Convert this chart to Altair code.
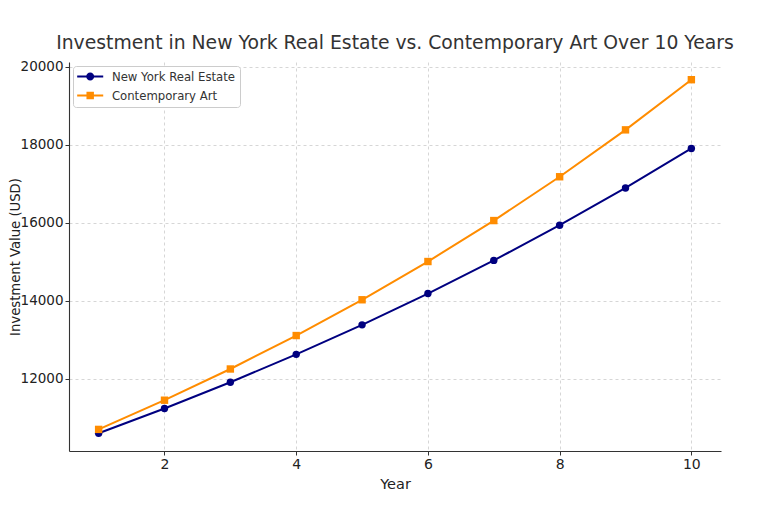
import altair as alt
import pandas as pd

years = [1, 2, 3, 4, 5, 6, 7, 8, 9, 10]
ny_real_estate = [10600, 11236, 11910, 12625, 13382, 14185, 15036, 15938, 16895, 17908]
contemporary_art = [10700, 11449, 12250, 13108, 14026, 15007, 16058, 17182, 18385, 19672]
series_names = ["New York Real Estate", "Contemporary Art"]
series_colors = ["#000080", "#ff8c00"]
series_shapes = ["circle", "square"]
x_ticks = [2, 4, 6, 8, 10]
y_ticks = [12000, 14000, 16000, 18000, 20000]

rows = []
for name, vals in zip(series_names, [ny_real_estate, contemporary_art]):
    for yr, v in zip(years, vals):
        rows.append({"Year": yr, "Value": v, "Series": name, "Legend": name})
df = pd.DataFrame(rows)

# legend glyphs: a line segment with the marker on it
circle_glyph = "M-2.17,-0.17H2.17V0.17H-2.17ZM-0.67,0A0.67,0.67,0,1,1,0.67,0A0.67,0.67,0,1,1,-0.67,0Z"
square_glyph = "M-2.17,-0.17H2.17V0.17H-2.17ZM-0.62,-0.62H0.62V0.62H-0.62Z"

x = alt.X("Year:Q", scale=alt.Scale(domain=[0.55, 10.45], nice=False, zero=False),
          axis=alt.Axis(values=x_ticks, title="Year", format="d", labelFontSize=14))
y = alt.Y("Value:Q", scale=alt.Scale(domain=[10146, 20126], nice=False, zero=False),
          axis=alt.Axis(values=y_ticks, title="Investment Value (USD)", format="d",
                        titleX=-49.5, titleY=194.5, titleBaseline="alphabetic",
                        titleFontSize=13.2, labelFontSize=13.5))

color_scale = alt.Scale(domain=series_names, range=series_colors)

lines = alt.Chart(df).mark_line(strokeWidth=2).encode(
    x=x, y=y,
    color=alt.Color("Series:N", scale=color_scale, legend=None),
)
points = alt.Chart(df).mark_point(filled=True, size=55, opacity=1).encode(
    x=x, y=y,
    color=alt.Color("Series:N", scale=color_scale, legend=None),
    shape=alt.Shape("Series:N", scale=alt.Scale(domain=series_names, range=series_shapes), legend=None),
)
legend = alt.Legend(
    title=None, orient="none", legendX=4, legendY=4,
    fillColor="white", strokeColor="#cccccc", cornerRadius=3, padding=4.5,
    labelFont="DejaVu Sans", labelFontSize=11.7, labelColor="#333333",
    symbolSize=144, symbolOpacity=1, symbolStrokeWidth=0, symbolOffset=6.7,
    rowPadding=6, labelOffset=15.7,
)
legend_layer = alt.Chart(df).mark_point(filled=True, opacity=0, size=144).encode(
    x=x, y=y,
    color=alt.Color("Legend:N", scale=alt.Scale(domain=series_names, range=series_colors),
                    legend=legend, sort=series_names),
    shape=alt.Shape("Legend:N", scale=alt.Scale(domain=series_names, range=[circle_glyph, square_glyph]),
                    legend=legend, sort=series_names),
)

chart = alt.layer(lines, points, legend_layer).resolve_scale(
    color="independent", shape="independent"
).properties(
    width=652, height=389,
    title=alt.Title("Investment in New York Real Estate vs. Contemporary Art Over 10 Years",
                    font="DejaVu Sans", fontSize=18.8, fontWeight="normal", color="#333333",
                    anchor="middle", offset=7),
    autosize=alt.AutoSizeParams(type="none"),
    padding={"left": 61, "top": 54, "right": 39, "bottom": 48},
).configure_view(stroke=None).configure_axis(
    labelFont="DejaVu Sans", labelFontSize=14, labelColor="#222222",
    titleFont="DejaVu Sans", titleFontSize=14.5, titleFontWeight="normal", titleColor="#222222",
    domainColor="#333333", domainWidth=1.1, tickColor="#333333", tickSize=4, tickWidth=1,
    gridColor="#cccccc", gridDash=[3, 3], gridWidth=0.8, labelPadding=2,
).configure_axisX(titlePadding=6)

chart.save("out.html", embed_options={"renderer": "svg", "actions": False})
